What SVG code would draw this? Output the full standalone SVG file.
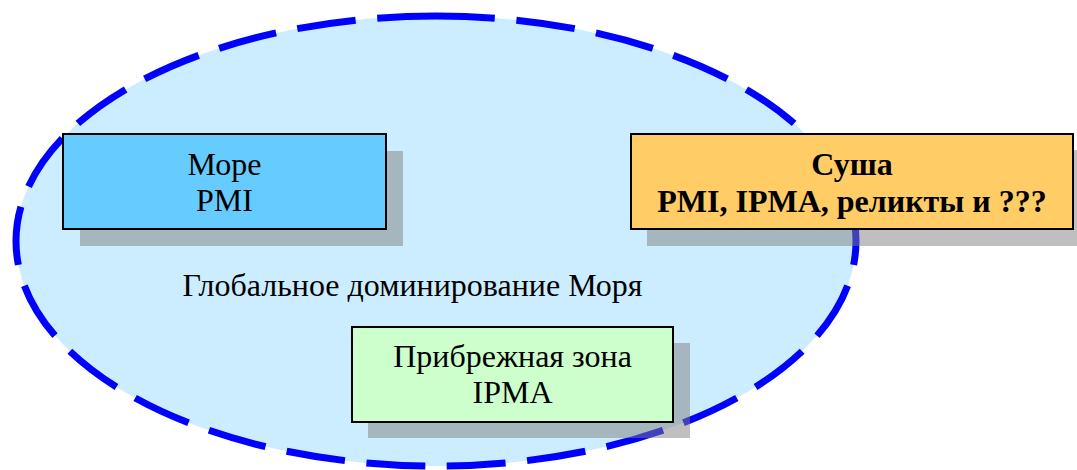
<svg xmlns="http://www.w3.org/2000/svg" width="1077" height="470" viewBox="0 0 1077 470">
  <style>
    text { font-family: "Liberation Serif", "Times New Roman", serif; font-size: 32px; fill: #000; text-anchor: middle; }
    .b { font-weight: bold; }
    .shadow { fill: #808080; fill-opacity: 0.5; }
    .box { stroke: #000; stroke-width: 2; }
  </style>
  <rect width="1077" height="470" fill="#fff"/>
  <g id="region">
    <path d="M436 16 A420 225 0 0 1 856 241 A420 225 0 0 1 436 466 A420 225 0 0 1 16 241 A420 225 0 0 1 436 16 Z" fill="#CCECFF" stroke="#0000FF" stroke-width="7" pathLength="2110" stroke-dasharray="60 22"/>
    <text x="412.5" y="296">Глобальное доминирование Моря</text>
  </g>
  <g id="connectors"></g>
  <g id="node-sea">
    <rect class="shadow" x="80" y="151" width="323" height="95"/>
    <rect class="box" x="63" y="134" width="323" height="95" fill="#66CCFF"/>
    <text x="224.5" y="175">Море</text>
    <text x="224.5" y="211">PMI</text>
  </g>
  <g id="node-land">
    <rect class="shadow" x="647" y="150" width="442" height="96"/>
    <rect class="box" x="631" y="134" width="442" height="95" fill="#FFCC66"/>
    <text class="b" x="852" y="175">Суша</text>
    <text class="b" x="852" y="211.5">PMI, IPMA, реликты и ???</text>
  </g>
  <g id="node-coast">
    <rect class="shadow" x="368" y="343" width="322" height="95"/>
    <rect class="box" x="352" y="327" width="321" height="95" fill="#CCFFCC"/>
    <text x="512.5" y="367">Прибрежная зона</text>
    <text x="512.5" y="403">IPMA</text>
  </g>
</svg>
